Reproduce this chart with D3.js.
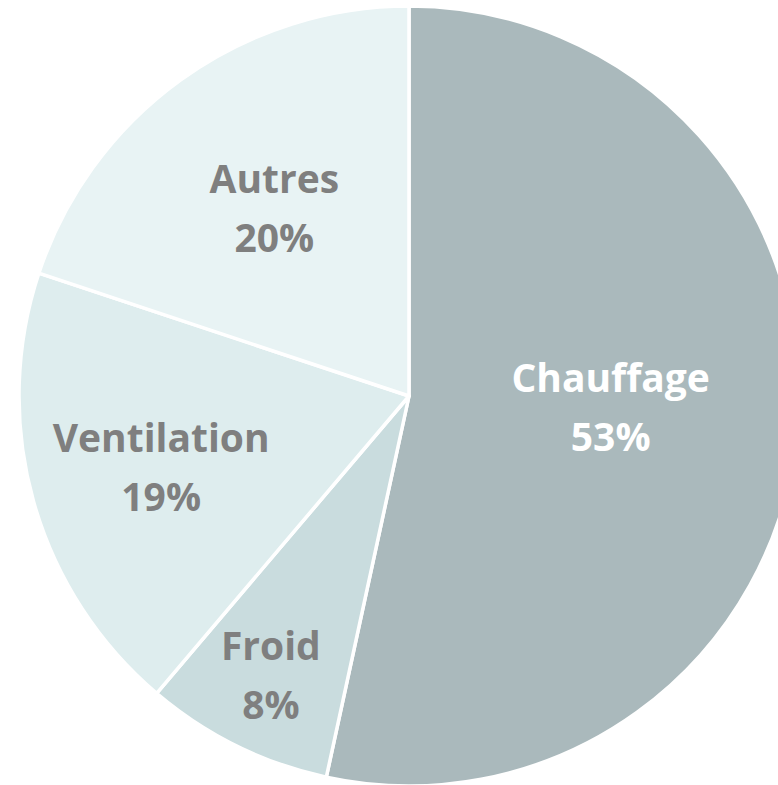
<!DOCTYPE html>
<html>
<head>
<meta charset="utf-8">
<script src="https://cdn.jsdelivr.net/npm/d3@7"></script>
<style>
  body { margin: 0; background: #fff; }
  svg { display: block; }
</style>
</head>
<body>
<svg id="chart" width="778" height="785"></svg>
<script>
// data
var categories = ["Chauffage", "Froid", "Ventilation", "Autres"];
var values = [53.4, 7.8, 18.9, 19.9];
var colors = ["#aab9bc", "#c9dcde", "#deedee", "#e8f3f4"];
var textColors = ["#ffffff", "#7f7f7f", "#7f7f7f", "#7f7f7f"];

// label placement: distance from centre (fraction of radius) and extra vertical shift
var labelPlace = {
    "Chauffage":   { frac: 0.52, dy: -11 },
    "Froid":       { frac: 0.80, dy: -1 },
    "Ventilation": { frac: 0.66, dy: 2 },
    "Autres":      { frac: 0.59, dy: -1 }
};

var width = 778, height = 785;
var cx = 409, cy = 396, radius = 390;

var data = categories.map(function (c, i) {
    return { name: c, value: values[i], color: colors[i], text: textColors[i] };
});

var pie = d3.pie()
    .sort(null)
    .value(function (d) { return d.value; });

var arc = d3.arc()
    .innerRadius(0)
    .outerRadius(radius);

var svg = d3.select("#chart");
var g = svg.append("g")
    .attr("transform", "translate(" + cx + "," + cy + ")");

var arcs = pie(data);

g.selectAll("path")
    .data(arcs)
    .enter().append("path")
        .attr("d", arc)
        .attr("fill", function (d) { return d.data.color; })
        .attr("stroke", "#ffffff")
        .attr("stroke-width", 3.5)
        .attr("stroke-linejoin", "round");

// labels
var labels = g.selectAll("g.label")
    .data(arcs)
    .enter().append("g")
        .attr("class", "label")
        .attr("transform", function (d) {
            var p = labelPlace[d.data.name];
            var r = radius * p.frac;
            var c = d3.arc().innerRadius(r).outerRadius(r).centroid(d);
            return "translate(" + c[0] + "," + (c[1] + p.dy) + ")";
        });

function addLine(sel, y, fn) {
    sel.append("text")
        .attr("y", y)
        .attr("text-anchor", "middle")
        .attr("font-family", "'Open Sans', sans-serif")
        .attr("font-weight", "bold")
        .attr("font-size", 39)
        .style("font-variant-ligatures", "none")
        .attr("fill", function (d) { return d.data.text; })
        .text(fn);
}

addLine(labels, -15, function (d) { return d.data.name; });
addLine(labels, 44, function (d) { return Math.round(d.data.value) + "%"; });
</script>
</body>
</html>
